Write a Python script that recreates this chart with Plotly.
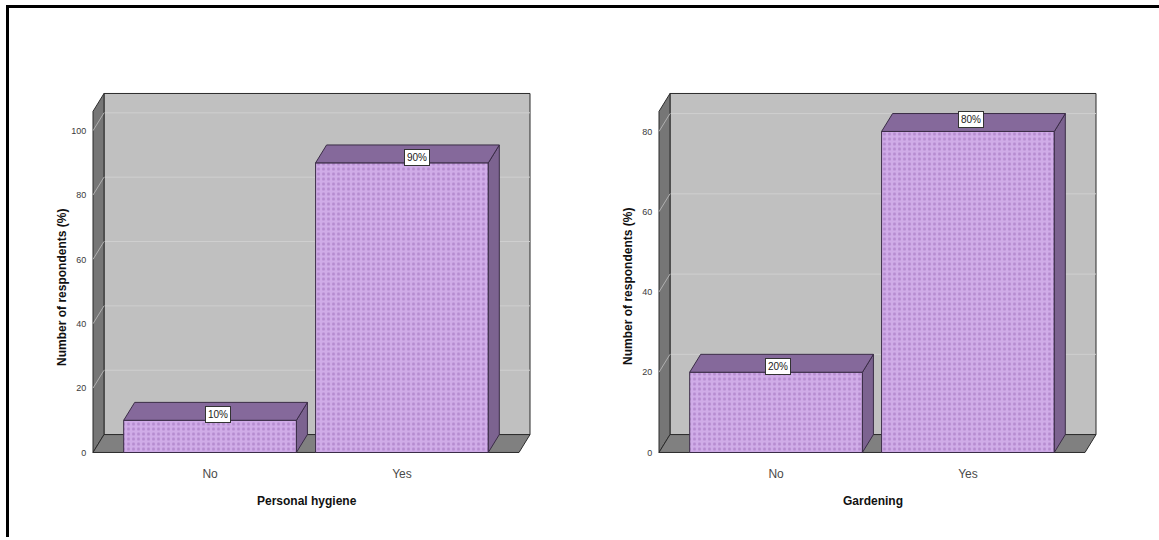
import plotly.graph_objects as go

W, H = 1159, 540

# ---- data -------------------------------------------------------------
categories = ["No", "Yes"]
hygiene_pct = [10, 90]
gardening_pct = [20, 80]
panel_titles = ["Personal hygiene", "Gardening"]
y_title = "Number of respondents (%)"
hygiene_ticks = [0, 20, 40, 60, 80, 100]
gardening_ticks = [0, 20, 40, 60, 80]

panels = [
    dict(values=hygiene_pct, ticks=hygiene_ticks, title=panel_titles[0]),
    dict(values=gardening_pct, ticks=gardening_ticks, title=panel_titles[1]),
]

# ---- geometry (pixels) --------------------------------------------------
DEPTH_X, DEPTH_Y = 11, 18          # 3-D extrusion of walls and bars
FRONT_W, FRONT_H = 426, 343        # front plane of each panel
FLOOR_Y = 455                      # pixel row of value 0 on the front plane
PANEL_LEFT = [93, 659]
Y_MAX = [106, 85]                  # value at the top of the front plane
X_LO, X_HI = -0.61, 1.61           # category range of the front plane
BAR_W = 0.9
PAD = 2
LABEL_SHIFT = [[(8, 6), (15, 5)], [(2, 6), (3, 12)]]

# ---- style ----------------------------------------------------------------
WALL = "#C0C0C0"
SIDE_WALL = "#767676"
FLOOR = "#808080"
EDGE = "#2B2B2B"
GRID = "#CFCFCF"
GRID_SIDE = "#B0B0B0"
BAR_FRONT = "#D0ACE8"
BAR_DOT = "#9A6AB6"
BAR_TOP = "#85699B"
BAR_SIDE = "#7C6390"
BAR_EDGE = "#3A2C46"
FONT = "Liberation Sans, Arial, sans-serif"


def px_x(p):
    return p / W


def px_y(p):
    return 1 - p / H


fig = go.Figure()
layout_axes = {}
shapes = []
annotations = []

for k, panel in enumerate(panels):
    xa = "x" if k == 0 else f"x{k + 1}"
    ya = "y" if k == 0 else f"y{k + 1}"
    xname = "xaxis" if k == 0 else f"xaxis{k + 1}"
    yname = "yaxis" if k == 0 else f"yaxis{k + 1}"

    pxu_x = FRONT_W / (X_HI - X_LO)
    pxu_y = FRONT_H / Y_MAX[k]
    dx = DEPTH_X / pxu_x
    dy = DEPTH_Y / pxu_y
    left = PANEL_LEFT[k]
    ymax = Y_MAX[k]

    layout_axes[xname] = dict(
        domain=[px_x(left - PAD), px_x(left + FRONT_W + DEPTH_X + PAD)],
        range=[X_LO - PAD / pxu_x, X_HI + (DEPTH_X + PAD) / pxu_x],
        anchor=ya, tickmode="array", tickvals=list(range(len(categories))),
        ticktext=categories, showgrid=False, zeroline=False, showline=False,
        ticks="outside", ticklen=8, tickcolor="rgba(0,0,0,0)",
        tickfont=dict(family=FONT, size=12, color="#4A4A4A"), fixedrange=True,
    )
    layout_axes[yname] = dict(
        domain=[px_y(FLOOR_Y + PAD), px_y(FLOOR_Y - FRONT_H - DEPTH_Y - PAD)],
        range=[-PAD / pxu_y, ymax + (DEPTH_Y + PAD) / pxu_y],
        anchor=xa, tickmode="array", tickvals=panel["ticks"],
        showgrid=False, zeroline=False, showline=False,
        ticks="outside", ticklen=2, tickcolor="rgba(0,0,0,0)",
        tickfont=dict(family=FONT, size=9, color="#3A3A3A"), fixedrange=True,
    )

    # back wall
    shapes.append(dict(type="rect", xref=xa, yref=ya, layer="below",
                       x0=X_LO + dx, x1=X_HI + dx, y0=dy, y1=ymax + dy,
                       fillcolor=WALL, line=dict(color=EDGE, width=1)))
    # gridlines on the back wall and their slants on the side wall
    for t in panel["ticks"][1:]:
        shapes.append(dict(type="line", xref=xa, yref=ya, layer="below",
                           x0=X_LO + dx, x1=X_HI + dx, y0=t + dy, y1=t + dy,
                           line=dict(color=GRID, width=1)))
    # left wall
    shapes.append(dict(type="path", xref=xa, yref=ya, layer="below",
                       path=f"M {X_LO},0 L {X_LO},{ymax} L {X_LO + dx},{ymax + dy} "
                            f"L {X_LO + dx},{dy} Z",
                       fillcolor=SIDE_WALL, line=dict(color=EDGE, width=1)))
    for t in panel["ticks"][1:]:
        shapes.append(dict(type="line", xref=xa, yref=ya, layer="below",
                           x0=X_LO, x1=X_LO + dx, y0=t, y1=t + dy,
                           line=dict(color=GRID_SIDE, width=1)))
    # floor
    shapes.append(dict(type="path", xref=xa, yref=ya, layer="below",
                       path=f"M {X_LO},0 L {X_HI},0 L {X_HI + dx},{dy} "
                            f"L {X_LO + dx},{dy} Z",
                       fillcolor=FLOOR, line=dict(color=EDGE, width=1)))

    idx = list(range(len(categories)))
    vals = panel["values"]

    # front faces of the bars
    fig.add_trace(go.Bar(
        x=idx, y=vals, width=BAR_W, xaxis=xa, yaxis=ya, hoverinfo="skip",
        marker=dict(color=BAR_FRONT, line=dict(color=BAR_EDGE, width=1),
                    pattern=dict(shape=".", fgcolor=BAR_DOT, size=5,
                                 solidity=0.3, fillmode="overlay")),
        showlegend=False,
    ))

    # top and side faces
    tx, ty, sx, sy = [], [], [], []
    for i, v in zip(idx, vals):
        x0, x1 = i - BAR_W / 2, i + BAR_W / 2
        tx += [x0, x1, x1 + dx, x0 + dx, x0, None]
        ty += [v, v, v + dy, v + dy, v, None]
        sx += [x1, x1, x1 + dx, x1 + dx, x1, None]
        sy += [0, v, v + dy, dy, 0, None]
    fig.add_trace(go.Scatter(x=sx, y=sy, xaxis=xa, yaxis=ya, mode="lines",
                             fill="toself", fillcolor=BAR_SIDE,
                             line=dict(color=BAR_EDGE, width=1),
                             hoverinfo="skip", showlegend=False))
    fig.add_trace(go.Scatter(x=tx, y=ty, xaxis=xa, yaxis=ya, mode="lines",
                             fill="toself", fillcolor=BAR_TOP,
                             line=dict(color=BAR_EDGE, width=1),
                             hoverinfo="skip", showlegend=False))

    # value labels
    for i, v in zip(idx, vals):
        sxh, syh = LABEL_SHIFT[k][i]
        annotations.append(dict(
            x=i, y=v, xref=xa, yref=ya, text=f"{v}%", showarrow=False,
            xshift=sxh, yshift=syh, bgcolor="white", bordercolor="#333",
            borderwidth=1, borderpad=2,
            font=dict(family=FONT, size=10, color="#222"),
        ))

    # axis titles
    cx = left + FRONT_W / 2 + 1
    annotations.append(dict(
        x=px_x(cx), y=px_y(504), xref="paper", yref="paper",
        text=f"<b>{panel['title']}</b>", showarrow=False,
        font=dict(family=FONT, size=12, color="#111"),
        xanchor="center", yanchor="middle",
    ))
    annotations.append(dict(
        x=px_x(left - 31), y=px_y(FLOOR_Y - FRONT_H / 2 + 5), xref="paper",
        yref="paper", text=f"<b>{y_title}</b>", showarrow=False, textangle=-90,
        font=dict(family=FONT, size=12, color="#111"),
        xanchor="center", yanchor="middle",
    ))

# outer frame (top and left rules)
shapes.append(dict(type="line", xref="paper", yref="paper",
                   x0=px_x(6), x1=1, y0=px_y(6.5), y1=px_y(6.5),
                   line=dict(color="black", width=3)))
shapes.append(dict(type="line", xref="paper", yref="paper",
                   x0=px_x(7.5), x1=px_x(7.5), y0=px_y(5), y1=0,
                   line=dict(color="black", width=3)))

fig.update_layout(
    width=W, height=H, margin=dict(l=0, r=0, t=0, b=0),
    paper_bgcolor="white", plot_bgcolor="rgba(0,0,0,0)",
    shapes=shapes, annotations=annotations, barmode="overlay",
    **layout_axes,
)

fig.write_html("out.html")
